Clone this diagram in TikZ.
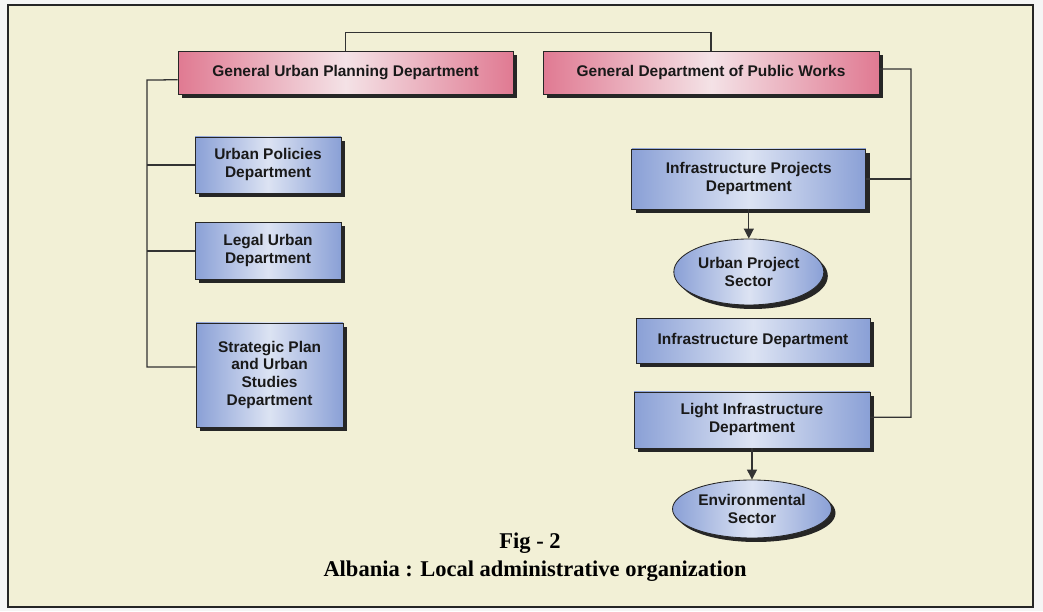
\documentclass[tikz,border=0pt]{standalone}
\usepackage{fontspec}
\setmainfont{Liberation Serif}
\newfontfamily\boxfont{Liberation Sans}
\usetikzlibrary{arrows.meta,positioning,shapes.geometric,shadows}

\definecolor{paper}{HTML}{F2F0D6}
\definecolor{pinkE}{HTML}{E07A92}
\definecolor{pinkM}{HTML}{F4E2E6}
\definecolor{blueE}{HTML}{8AA0D6}
\definecolor{blueM}{HTML}{DCE3F3}

\begin{document}
\begin{tikzpicture}[
    box/.style={draw=black!85,line width=0.6pt,align=center,text=black!90,
        font=\boxfont\bfseries\fontsize{11}{12.8}\selectfont,
        drop shadow={shadow xshift=0.1cm,shadow yshift=-0.1cm,opacity=1,fill=black!85}},
    head/.style={box,left color=pinkE,right color=pinkE,middle color=pinkM,minimum height=1.075cm},
    dept/.style={box,left color=blueE,right color=blueE,middle color=blueM},
    sector/.style={dept,ellipse,inner sep=1pt},
    link/.style={line width=0.9pt,draw=black!80},
    flow/.style={link,-{Triangle[length=0.25cm,width=0.25cm]}}
]

    % Page and frame
    \useasboundingbox (0,0) rectangle (26.075,15.275);
    \fill[white!96!black] (0,0) rectangle (26.075,15.275);
    \draw[fill=paper,draw=black!85,line width=1.2pt] (0.2,0.1) rectangle (25.825,15.15);

    % Draw the two general departments
    \node[head,minimum width=8.375cm] (gupd) at (8.64,13.46) {General Urban Planning Department};
    \node[head,minimum width=8.4cm] (gdpw) at (17.775,13.46) {General Department of Public Works};

    % Departments under urban planning
    \node[dept,minimum width=3.65cm,minimum height=1.4cm] (policies) at (6.7,11.15) {Urban Policies\\Department};
    \node[dept,minimum width=3.65cm,minimum height=1.425cm] (legal) at (6.7,9.0) {Legal Urban\\Department};
    \node[dept,minimum width=3.675cm,minimum height=2.6cm] (strategic) at (6.74,5.9) {Strategic Plan\\and Urban\\Studies\\Department};

    % Departments and sectors under public works
    \node[dept,minimum width=5.85cm,minimum height=1.5cm] (infraproj) at (18.72,10.8) {Infrastructure Projects\\Department};
    \node[sector,minimum width=3.75cm,minimum height=1.65cm] (urbansec) at (18.72,8.475) {Urban Project\\Sector};
    \node[dept,minimum width=5.85cm,minimum height=1.125cm] (infra) at (18.825,6.76) {Infrastructure Department};
    \node[dept,minimum width=5.9cm,minimum height=1.4cm] (light) at (18.8,4.775) {Light Infrastructure\\Department};
    \node[sector,minimum width=3.975cm,minimum height=1.45cm] (envsec) at (18.8,2.55) {Environmental\\Sector};

    % Link between the general departments
    \draw[link] (gupd.north) -- ++(0,0.45) -| (gdpw.north);

    % Left trunk
    \coordinate (ltrunk) at (3.675,13.275);
    \draw[link] ([yshift=-0.18cm]gupd.west) -- (ltrunk) |- ([yshift=0.2cm]strategic.west);
    \draw[link] (policies.west) -- (policies.west -| ltrunk);
    \draw[link] (legal.west) -- (legal.west -| ltrunk);

    % Right trunk
    \coordinate (rtrunk) at (22.775,13.55);
    \draw[link] ([yshift=0.09cm]gdpw.east) -- (rtrunk) |- ([yshift=0.07cm]light.east);
    \draw[link] (infraproj.east) -- (infraproj.east -| rtrunk);

    % Arrows to the sectors
    \draw[flow] (infraproj) -- (urbansec);
    \draw[flow] (light) -- (envsec);

    % Caption
    \node[font=\bfseries\fontsize{16}{19}\selectfont] (fig) at (13.25,1.7) {Fig - 2};
    \node[font=\bfseries\fontsize{16}{19}\selectfont] (title) at (13.375,1.0) {Albania : Local administrative organization};

\end{tikzpicture}
\end{document}
